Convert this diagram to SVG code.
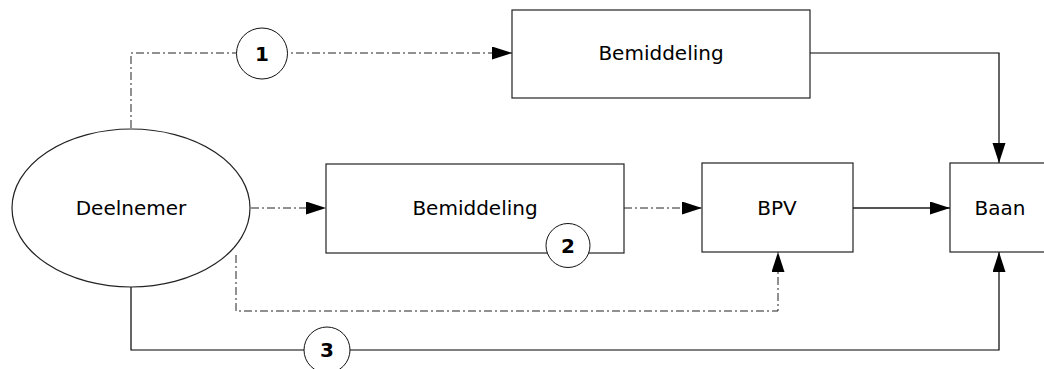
<svg xmlns="http://www.w3.org/2000/svg" width="1044" height="369" viewBox="0 0 1044 369">
  <defs>
    <marker id="arrow" markerUnits="userSpaceOnUse" markerWidth="21" markerHeight="14" refX="20" refY="6.5" orient="auto">
      <path d="M0,0 L20,6.5 L0,13 z" fill="#000"/>
    </marker>
    <style>
      .box { fill: #fff; stroke: #222; stroke-width: 1.2; }
      .lbl { font-family: "DejaVu Sans", Verdana, sans-serif; font-size: 20px; fill: #000; text-anchor: middle; }
      .num { font-family: "DejaVu Sans", Verdana, sans-serif; font-size: 20px; font-weight: bold; fill: #000; text-anchor: middle; }
      .badge { fill: #fff; stroke: #111; stroke-width: 1; }
      .solid { fill: none; stroke: #000; stroke-width: 1.2; }
      .grey { fill: none; stroke: #555; stroke-width: 2; }
      .dashdot { fill: none; stroke: #222; stroke-width: 1; stroke-dasharray: 8 3 2 3; }
    </style>
  </defs>
  <rect width="1044" height="369" fill="#fff"/>

  <!-- connectors -->
  <g id="connectors">
    <!-- route 1: Deelnemer up and over to upper Bemiddeling -->
    <polyline class="dashdot" points="131,128 131,53 512,53" marker-end="url(#arrow)"/>
    <!-- upper Bemiddeling to Baan -->
    <polyline class="solid" points="810,53 999,53 999,163" marker-end="url(#arrow)"/>
    <!-- route 2: Deelnemer to lower Bemiddeling -->
    <line class="dashdot" x1="251" y1="208" x2="326" y2="208" marker-end="url(#arrow)"/>
    <!-- lower Bemiddeling to BPV -->
    <line class="dashdot" x1="624" y1="208" x2="702" y2="208" stroke="#555" marker-end="url(#arrow)"/>
    <!-- Deelnemer directly to BPV -->
    <polyline class="dashdot" points="236,255 236,311 778,311 778,252" marker-end="url(#arrow)"/>
    <!-- BPV to Baan -->
    <line class="grey" x1="853" y1="208" x2="950" y2="208" marker-end="url(#arrow)"/>
    <!-- route 3: Deelnemer straight to Baan -->
    <polyline class="solid" points="131,287 131,350 999,350 999,252" marker-end="url(#arrow)"/>
  </g>

  <g id="deelnemer">
    <ellipse class="box" cx="131" cy="208" rx="119" ry="79"/>
    <text class="lbl" x="131" y="215">Deelnemer</text>
  </g>

  <g id="bemiddeling-top">
    <rect class="box" x="512" y="10" width="298" height="88"/>
    <text class="lbl" x="661" y="60">Bemiddeling</text>
  </g>

  <g id="bemiddeling-mid">
    <rect class="box" x="326" y="164" width="298" height="89"/>
    <text class="lbl" x="475" y="215">Bemiddeling</text>
  </g>

  <g id="bpv">
    <rect class="box" x="702" y="163" width="151" height="89"/>
    <text class="lbl" x="777" y="215">BPV</text>
  </g>

  <g id="baan">
    <rect class="box" x="950" y="163" width="100" height="89"/>
    <text class="lbl" x="1000" y="215">Baan</text>
  </g>

  <!-- route numbers -->
  <g id="badge-1">
    <circle class="badge" cx="262" cy="53.5" r="25.5"/>
    <text class="num" x="262" y="61">1</text>
  </g>
  <g id="badge-2">
    <circle class="badge" cx="568" cy="245.5" r="22"/>
    <text class="num" x="568" y="253">2</text>
  </g>
  <g id="badge-3">
    <circle class="badge" cx="327" cy="350" r="23"/>
    <text class="num" x="327" y="357">3</text>
  </g>
</svg>
